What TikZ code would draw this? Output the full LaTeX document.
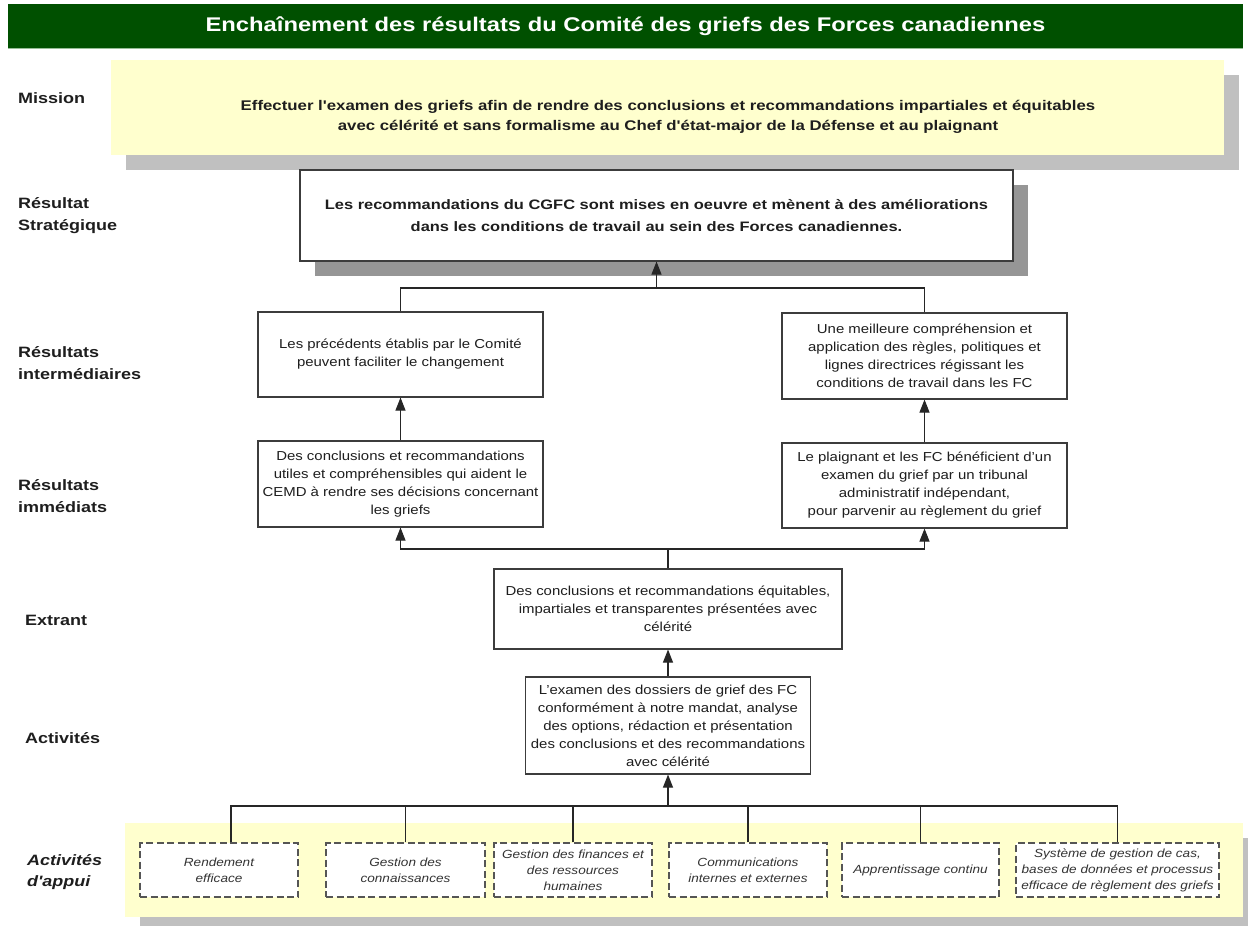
\documentclass[tikz,border=0pt]{standalone}
\usepackage{fontspec}
\setmainfont{Liberation Sans}[FakeStretch=1.15]
\newfontfamily\wfont{Liberation Sans}[FakeStretch=1.2]
\usetikzlibrary{arrows.meta,calc,shadows}
\definecolor{titlegreen}{RGB}{0,80,0}
\definecolor{titleedge}{RGB}{150,190,150}
\definecolor{paleyellow}{RGB}{255,255,206}
\definecolor{lightshadow}{RGB}{192,192,192}
\definecolor{darkshadow}{RGB}{150,150,150}
\definecolor{boxline}{RGB}{60,60,60}
\definecolor{dashline}{RGB}{85,85,85}
\definecolor{inktext}{RGB}{30,30,30}
\begin{document}
\begin{tikzpicture}[x=1pt,y=-1pt,
  box/.style={draw=boxline, line width=1.1pt, fill=white, rectangle, inner sep=0pt, align=center,
    font=\fontsize{13}{18}\selectfont, text=inktext},
  supbox/.style={draw=dashline, dash pattern=on 7pt off 3.5pt, line width=1.3pt, fill=white, inner sep=0pt,
    align=center, font=\fontsize{11.8}{16}\selectfont\itshape, text=black!80},
  band/.style={fill=paleyellow, inner sep=0pt,
    drop shadow={shadow xshift=15pt, shadow yshift=-15pt, fill=lightshadow, opacity=1}},
  lbl/.style={anchor=west, align=left, inner sep=0pt, font=\wfont\fontsize{15}{22}\selectfont\bfseries, text=inktext},
  conn/.style={draw=black!85, line width=1.1pt},
  arr/.style={conn, -{Triangle[width=10pt,length=13pt]}},
]
\useasboundingbox (0,0) rectangle (1248,926);

% title bar
\node[fill=titlegreen, minimum width=1235pt, minimum height=45pt, inner sep=0pt, text=white,
  font=\wfont\fontsize{19.8}{22}\selectfont\bfseries] (title) at (625.5,26.5)
  {Enchaînement des résultats du Comité des griefs des Forces canadiennes};
\draw[titleedge, line width=1pt] ([yshift=0.5pt]title.south west) -- ([yshift=0.5pt]title.south east);

% left labels
\node[lbl] (lmission) at (18,98) {Mission};
\node[lbl] (lstrat) at (18,216) {Résultat\\Stratégique};
\node[lbl] (linter) at (18,363) {Résultats\\intermédiaires};
\node[lbl] (limm) at (18,496) {Résultats\\immédiats};
\node[lbl] (lout) at (25,620) {Extrant};
\node[lbl] (lact) at (25,738) {Activités};
\node[lbl, font=\wfont\fontsize{15}{21}\selectfont\bfseries\itshape] (lsup) at (27,872) {Activités\\d'appui};

% mission
\node[band, minimum width=1113pt, minimum height=95pt] (mission) at (667.5,107.5) {};
\node[align=center, inner sep=0pt, font=\wfont\fontsize{14}{20}\selectfont\bfseries, text=inktext] (missiontext) at (668,117)
  {Effectuer l'examen des griefs afin de rendre des conclusions et recommandations impartiales et équitables\\
   avec célérité et sans formalisme au Chef d'état-major de la Défense et au plaignant};

% strategic outcome
\node[box, minimum width=713pt, minimum height=91pt, font=\wfont\fontsize{13.7}{22}\selectfont\bfseries,
  drop shadow={shadow xshift=15pt, shadow yshift=-15pt, fill=darkshadow, opacity=1}] (strat) at (656.5,215.5)
  {Les recommandations du CGFC sont mises en oeuvre et mènent à des améliorations\\
   dans les conditions de travail au sein des Forces canadiennes.};

% intermediate outcomes
\node[box, minimum width=285pt, minimum height=85pt] (inL) at (400.5,354.5)
  {Les précédents établis par le Comité\\peuvent faciliter le changement};
\node[box, minimum width=285pt, minimum height=86pt] (inR) at (924.5,356)
  {Une meilleure compréhension et\\application des règles, politiques et\\lignes directrices régissant les\\conditions de travail dans les FC};

% immediate outcomes
\node[box, minimum width=285pt, minimum height=86pt] (imL) at (400.5,484)
  {Des conclusions et recommandations\\utiles et compréhensibles qui aident le\\CEMD à rendre ses décisions concernant\\les griefs};
\node[box, minimum width=285pt, minimum height=85pt] (imR) at (924.5,485.5)
  {Le plaignant et les FC bénéficient d'un\\examen du grief par un tribunal\\administratif indépendant,\\pour parvenir au règlement du grief};

% output
\node[box, minimum width=348pt, minimum height=80pt] (out) at (668,609)
  {Des conclusions et recommandations équitables,\\impartiales et transparentes présentées avec\\célérité};

% activities
\node[box, minimum width=285pt, minimum height=97pt] (act) at (668,725.5)
  {L'examen des dossiers de grief des FC\\conformément à notre mandat, analyse\\des options, rédaction et présentation\\des conclusions et des recommandations\\avec célérité};

% support band and boxes
\node[band, minimum width=1118pt, minimum height=94pt] (supband) at (684,870) {};
\node[supbox, minimum width=158pt, minimum height=54pt] (s1) at (219,870) {Rendement\\efficace};
\node[supbox, minimum width=159pt, minimum height=54pt] (s2) at (405.5,870) {Gestion des\\connaissances};
\node[supbox, minimum width=158pt, minimum height=54pt] (s3) at (573,870) {Gestion des finances et\\des ressources\\humaines};
\node[supbox, minimum width=158pt, minimum height=54pt] (s4) at (748,870) {Communications\\internes et externes};
\node[supbox, minimum width=157pt, minimum height=54pt] (s5) at (920.5,870) {Apprentissage continu};
\node[supbox, minimum width=203pt, minimum height=54pt] (s6) at (1117.5,870) {Système de gestion de cas,\\bases de données et processus\\efficace de règlement des griefs};

% connectors
\coordinate (jt) at (656.5,288);
\coordinate (jm) at (668,549);
\coordinate (jb) at (668,806);

\draw[conn] (inL.north) |- (jt) -| (inR.north);
\draw[arr] (jt) -- (strat.south);
\draw[arr] (imL.north) -- (inL.south);
\draw[arr] (imR.north) -- (inR.south);
\draw[conn] (out.north) -- (jm);
\draw[arr] (jm) -| (imL.south);
\draw[arr] (jm) -| (imR.south);
\draw[arr] (act.north) -- (out.south);
\draw[arr] (jb) -- (act.south);
\draw[conn] ([xshift=12pt]s1.north) |- (jb) -| (s6.north);
\draw[conn] (s2.north) -- (s2.north |- jb);
\draw[conn] (s3.north) -- (s3.north |- jb);
\draw[conn] (s4.north) -- (s4.north |- jb);
\draw[conn] (s5.north) -- (s5.north |- jb);
\end{tikzpicture}
\end{document}
